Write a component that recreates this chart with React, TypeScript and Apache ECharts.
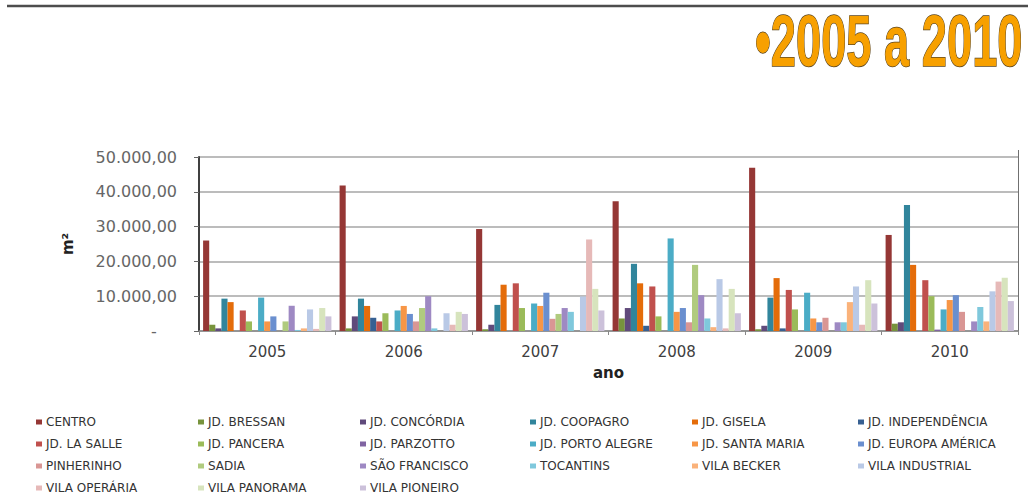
import React, { useEffect, useRef } from "react";
import * as echarts from "echarts";

const years = ["2005", "2006", "2007", "2008", "2009", "2010"];

const districts = [
  "CENTRO", "JD. BRESSAN", "JD. CONCÓRDIA", "JD. COOPAGRO", "JD. GISELA", "JD. INDEPENDÊNCIA",
  "JD. LA SALLE", "JD. PANCERA", "JD. PARZOTTO", "JD. PORTO ALEGRE", "JD. SANTA MARIA", "JD. EUROPA AMÉRICA",
  "PINHERINHO", "SADIA", "SÃO FRANCISCO", "TOCANTINS", "VILA BECKER", "VILA INDUSTRIAL",
  "VILA OPERÁRIA", "VILA PANORAMA", "VILA PIONEIRO",
];

const colors = [
  "#953735", "#77933C", "#604A7B", "#31859C", "#E46C0A", "#376092",
  "#C0504D", "#9BBB59", "#8064A2", "#4BACC6", "#F79646", "#6A8FCF",
  "#D99694", "#B0CB7E", "#9E89C3", "#7FC8DC", "#FAB27A", "#B9C9E6",
  "#E6B9B8", "#D7E4BD", "#CCC1DA",
];

// values in m², 2005..2010
const centro = [26000, 41800, 29300, 37300, 46900, 27600];
const bressan = [1800, 750, 500, 3600, 500, 2100];
const concordia = [750, 4200, 1800, 6600, 1500, 2500];
const coopagro = [9300, 9300, 7500, 19300, 9600, 36200];
const gisela = [8300, 7200, 13300, 13700, 15200, 19000];
const independencia = [0, 3800, 0, 1500, 750, 0];
const laSalle = [5900, 2750, 13700, 12800, 11800, 14600];
const pancera = [2750, 5100, 6600, 4200, 6200, 10000];
const parzotto = [0, 0, 0, 0, 0, 400];
const portoAlegre = [9600, 5900, 7900, 26600, 11000, 6200];
const santaMaria = [2750, 7200, 7200, 5500, 3600, 8900];
const europaAmerica = [4200, 4900, 11000, 6600, 2500, 10300];
const pinherinho = [0, 2750, 3500, 2500, 3800, 5500];
const sadia = [2750, 6600, 4900, 19000, 0, 0];
const saoFrancisco = [7250, 10000, 6600, 10300, 2500, 2750];
const tocantins = [300, 750, 5500, 3600, 2500, 6900];
const vilaBecker = [750, 0, 0, 1100, 8300, 2750];
const vilaIndustrial = [6200, 5100, 9900, 14900, 12800, 11400];
const vilaOperaria = [600, 1800, 26300, 750, 1800, 14200];
const vilaPanorama = [6600, 5500, 12100, 12100, 14600, 15300];
const vilaPioneiro = [4200, 4900, 5900, 5100, 7900, 8600];

const seriesValues = [
  centro, bressan, concordia, coopagro, gisela, independencia,
  laSalle, pancera, parzotto, portoAlegre, santaMaria, europaAmerica,
  pinherinho, sadia, saoFrancisco, tocantins, vilaBecker, vilaIndustrial,
  vilaOperaria, vilaPanorama, vilaPioneiro,
];

function fmt(v: number): string {
  if (v === 0) return "-\u00A0\u00A0\u00A0\u00A0";
  const s = Math.round(v).toString();
  const withDots = s.replace(/\B(?=(\d{3})+(?!\d))/g, ".");
  return withDots + ",00";
}

const legendLefts = [36, 198, 360, 530, 692, 858];

export default function App() {
  const ref = useRef<HTMLDivElement>(null);
  useEffect(() => {
    if (!ref.current) return;
    const chart = echarts.init(ref.current, null, { renderer: "svg" });
    const legends = legendLefts.map((left, col) => ({
      orient: "vertical",
      left,
      top: 416,
      height: 83,
      padding: 0,
      itemWidth: 6,
      itemHeight: 5,
      itemGap: 10,
      icon: "rect",
      selectedMode: false,
      data: districts.filter((_, i) => i % 6 === col),
      textStyle: {
        fontFamily: "DejaVu Sans",
        fontSize: 12,
        color: "#333",
        lineHeight: 12,
        padding: [0, 0, 0, -1],
      },
    }));
    chart.setOption({
      animation: false,
      backgroundColor: "#fff",
      color: colors,
      legend: legends,
      grid: { left: 199, right: 10, top: 157, bottom: 168, containLabel: false },
      xAxis: {
        type: "category",
        data: years,
        name: "ano",
        nameLocation: "middle",
        nameGap: 34,
        nameTextStyle: { fontFamily: "DejaVu Sans", fontWeight: "bold", fontSize: 15, color: "#222" },
        axisLine: { lineStyle: { color: "#888", width: 1.5 } },
        axisTick: { show: true, length: 4, lineStyle: { color: "#888" } },
        axisLabel: { fontFamily: "DejaVu Sans", fontSize: 15, color: "#404040", margin: 13 },
      },
      yAxis: {
        type: "value",
        min: 0,
        max: 50000,
        interval: 10000,
        name: "m²",
        nameLocation: "middle",
        nameGap: 124,
        nameRotate: 90,
        nameTextStyle: { fontFamily: "DejaVu Sans", fontWeight: "bold", fontSize: 15, color: "#222" },
        axisLine: { show: true, lineStyle: { color: "#404040", width: 2 } },
        axisTick: { show: true, length: 5, lineStyle: { color: "#666" } },
        axisLabel: {
          fontFamily: "DejaVu Sans",
          fontSize: 16,
          color: "#666",
          margin: 22,
          formatter: (v: number) => fmt(v),
        },
        splitLine: { lineStyle: { color: "#a6a6a6", width: 1.5 } },
      },
      series: districts.map((name, i) => ({
        name,
        type: "bar",
        data: seriesValues[i],
        barGap: "0%",
        barCategoryGap: "6%",
        itemStyle: { color: colors[i] },
      })),
      graphic: [
        {
          type: "line",
          shape: { x1: 7, y1: 6, x2: 1028, y2: 6 },
          style: { stroke: "#4d4d4d", lineWidth: 2.5 },
        },
        {
          type: "line",
          shape: { x1: 1018.5, y1: 150, x2: 1018.5, y2: 331 },
          style: { stroke: "#707070", lineWidth: 1 },
        },
        {
          type: "text",
          x: 755,
          y: 41,
          scaleX: 0.62,
          style: {
            text: "•2005 a 2010",
            fontFamily: "Liberation Sans",
            fontWeight: "bold",
            fontSize: 73,
            fill: "#F7A000",
            stroke: "#5a4520",
            lineWidth: 1.5,
            textAlign: "left",
            textVerticalAlign: "middle",
          },
        },
      ],
    });
    return () => chart.dispose();
  }, []);
  return (
    <div
      ref={ref}
      style={{ position: "fixed", left: 0, top: 0, width: 1028, height: 499 }}
    />
  );
}
